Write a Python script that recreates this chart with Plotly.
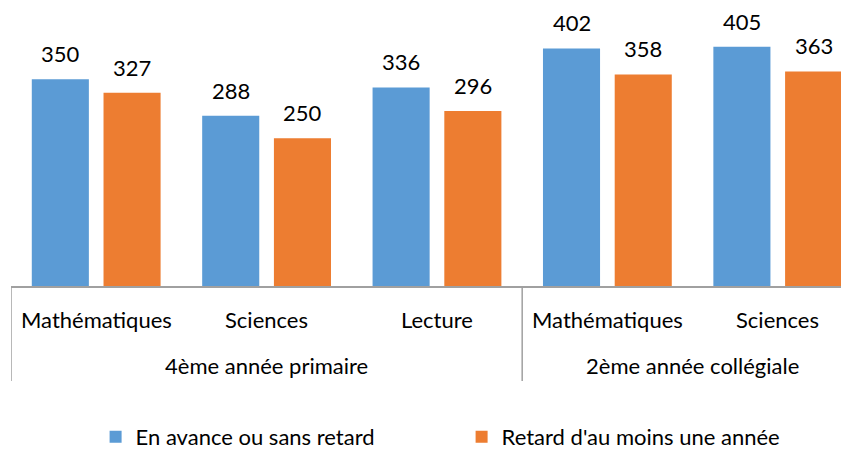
import plotly.graph_objects as go

groups = ["4ème année primaire", "2ème année collégiale"]
group_sizes = [3, 2]
subjects = ["Mathématiques", "Sciences", "Lecture", "Mathématiques", "Sciences"]
series_names = ["En avance ou sans retard", "Retard d'au moins une année"]
avance = [350, 288, 336, 402, 405]
retard = [327, 250, 296, 358, 363]

colors = ["#5B9BD5", "#ED7D31"]
FONT = "Lato"
FS = 22
TXT = "#000000"
LINE = "#A0A0A0"

FIG_H = 462
PLOT_H = 278  # px of plot area
BAR_W = 0.335
HALF = 0.378
xs = list(range(len(subjects)))

fig = go.Figure()
for vals, name, col, off in [(avance, series_names[0], colors[0], -HALF),
                             (retard, series_names[1], colors[1], HALF - BAR_W)]:
    fig.add_trace(go.Bar(x=xs, y=vals, name=name, marker=dict(color=col, line=dict(width=0)),
                         width=BAR_W, offset=off, hoverinfo="x+y"))
    for xi, v in zip(xs, vals):
        fig.add_annotation(x=xi + off + BAR_W / 2, y=v, xref="x", yref="y", text=str(v),
                           showarrow=False, yanchor="bottom", yshift=11, borderpad=0,
                           font=dict(family=FONT, size=FS, color=TXT))

# subject labels
for xi, s in zip(xs, subjects):
    fig.add_annotation(x=xi, y=0, xref="x", yref="paper", text=s, showarrow=False,
                       yanchor="middle", yshift=-33, font=dict(family=FONT, size=FS, color=TXT))

# group labels and dividers
start = 0
bounds = [start - 0.5]
for g, n in zip(groups, group_sizes):
    center = start + (n - 1) / 2
    fig.add_annotation(x=center, y=0, xref="x", yref="paper", text=g, showarrow=False,
                       yanchor="middle", yshift=-79, font=dict(family=FONT, size=FS, color=TXT))
    start += n
    bounds.append(start - 0.5)
for b in bounds:
    fig.add_shape(type="line", xref="x", yref="paper", x0=b, x1=b, y0=0, y1=-95 / PLOT_H,
                  line=dict(color=LINE, width=1.5))

fig.update_layout(
    width=849, height=FIG_H,
    margin=dict(l=3, r=0, t=0, b=FIG_H - PLOT_H),
    paper_bgcolor="white", plot_bgcolor="white",
    barmode="group",
    showlegend=True,
    legend=dict(orientation="h", x=0.1, xanchor="left", y=-151 / PLOT_H, yanchor="middle",
                font=dict(family=FONT, size=FS, color=TXT), entrywidth=321,
                itemclick=False),
    xaxis=dict(range=[-0.5, 4.465], showticklabels=False, showgrid=False, zeroline=False,
               showline=True, linecolor=LINE, linewidth=1.5, ticks=""),
    yaxis=dict(range=[0, 470.4], visible=False, showgrid=False, zeroline=False),
)
fig.write_html("out.html")
